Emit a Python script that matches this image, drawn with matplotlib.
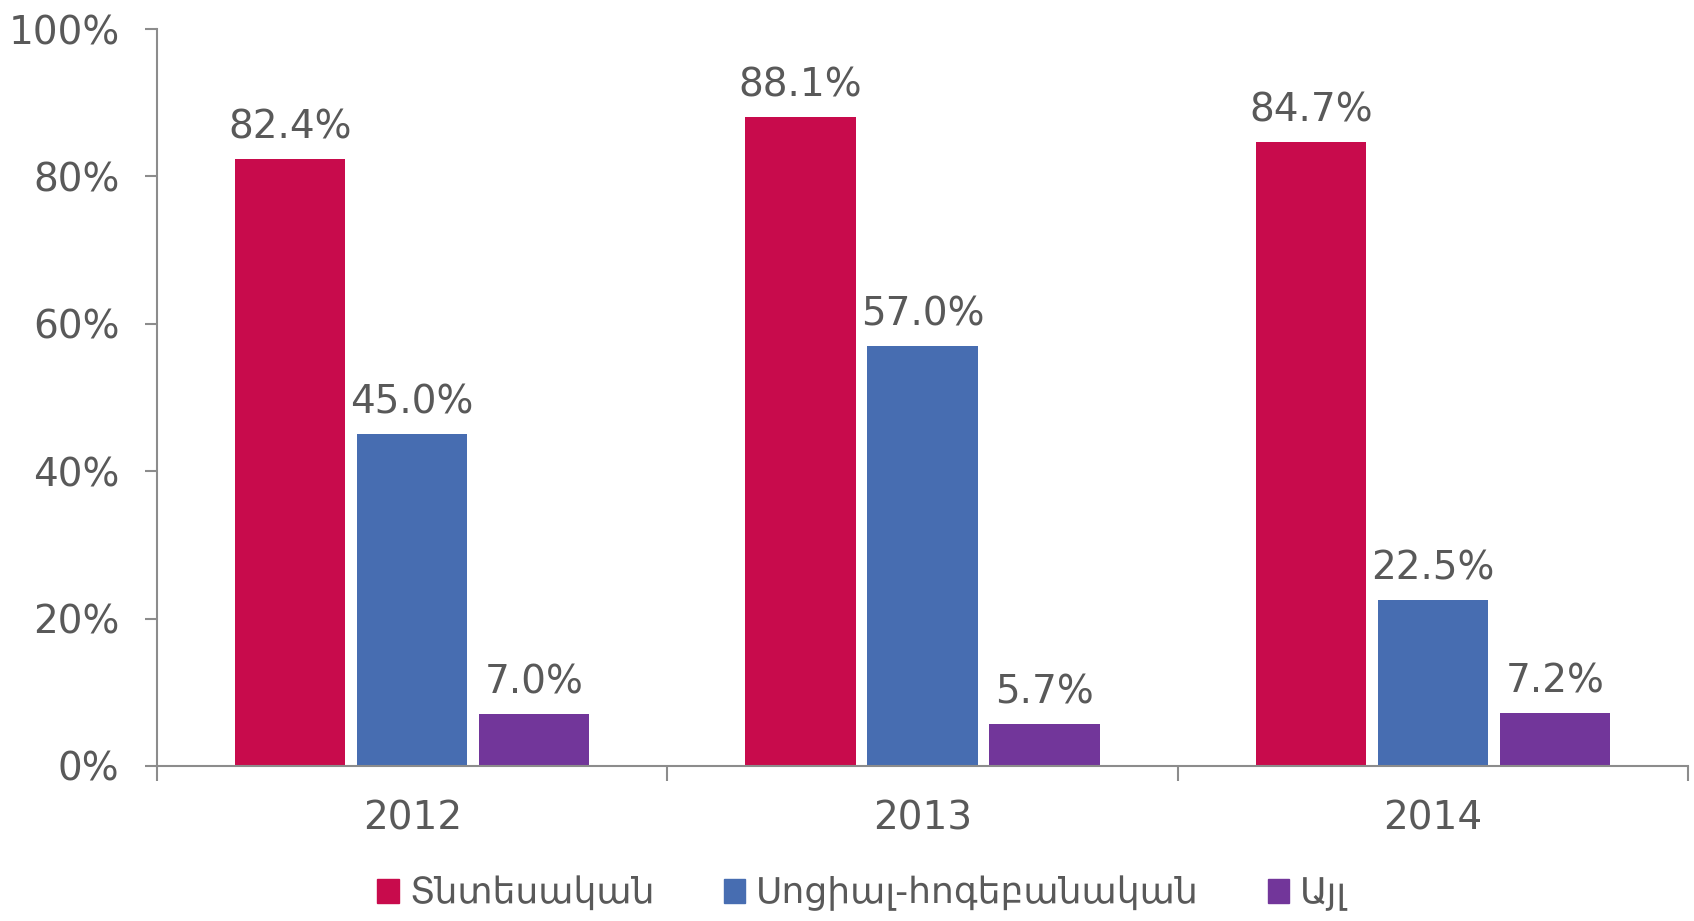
import matplotlib
matplotlib.use("Agg")
import matplotlib.pyplot as plt
import matplotlib.patches as patches
import numpy as np

years = ["2012", "2013", "2014"]
series_names = ["Տնտեսական", "Սոցիալ-հոգեբանական", "Այլ"]
economic = [82.4, 88.1, 84.7]
social = [45.0, 57.0, 22.5]
other = [7.0, 5.7, 7.2]
colors = ["#C80B4C", "#476DB1", "#72369A"]
y_ticks = [0, 20, 40, 60, 80, 100]

text_color = "#595959"
axis_color = "#8C8C8C"
fs = 28

plt.rcParams['font.family'] = ['DejaVu Sans']

fig = plt.figure(figsize=(16.94, 9.21), dpi=100)
ax = fig.add_axes([0.0927, 0.1683, 0.9038, 0.8002])

x = np.arange(len(years))
step = 0.239
width = 0.216
handles = []
for i, (vals, name, col) in enumerate(zip([economic, social, other], series_names, colors)):
    bars = ax.bar(x + (i - 1) * step, vals, width=width, color=col, label=name)
    for b, v in zip(bars, vals):
        ax.annotate(f"{v:.1f}%", (b.get_x() + b.get_width() / 2, v),
                    xytext=(0, 9), textcoords="offset points",
                    ha="center", va="bottom", fontsize=fs, color=text_color)
    handles.append(patches.Rectangle((0, 0), 1, 1, color=col))

ax.set_xlim(-0.5, 2.5)
ax.set_ylim(0, 100)
ax.set_yticks(y_ticks)
ax.set_yticklabels([f"{t}%" for t in y_ticks])
ax.set_xticks([-0.5, 0.5, 1.5, 2.5])
ax.set_xticklabels([])
ax.set_xticks(x, minor=True)
ax.set_xticklabels(years, minor=True)
ax.tick_params(axis="x", which="minor", length=0, pad=24, labelsize=fs, labelcolor=text_color)
ax.tick_params(axis="x", which="major", length=11, width=1.5, color=axis_color)
ax.tick_params(axis="y", length=9, width=1.5, color=axis_color, pad=18,
               labelsize=fs, labelcolor=text_color)

for s in ["top", "right"]:
    ax.spines[s].set_visible(False)
for s in ["left", "bottom"]:
    ax.spines[s].set_color(axis_color)
    ax.spines[s].set_linewidth(1.5)

fig.legend(handles, series_names, loc="center", bbox_to_anchor=(0.509, 0.03),
           ncol=3, frameon=False, fontsize=26, labelcolor=text_color,
           handlelength=0.6, handleheight=0.65, handletextpad=0.3, columnspacing=1.9)

fig.savefig("out.png", dpi=100)
